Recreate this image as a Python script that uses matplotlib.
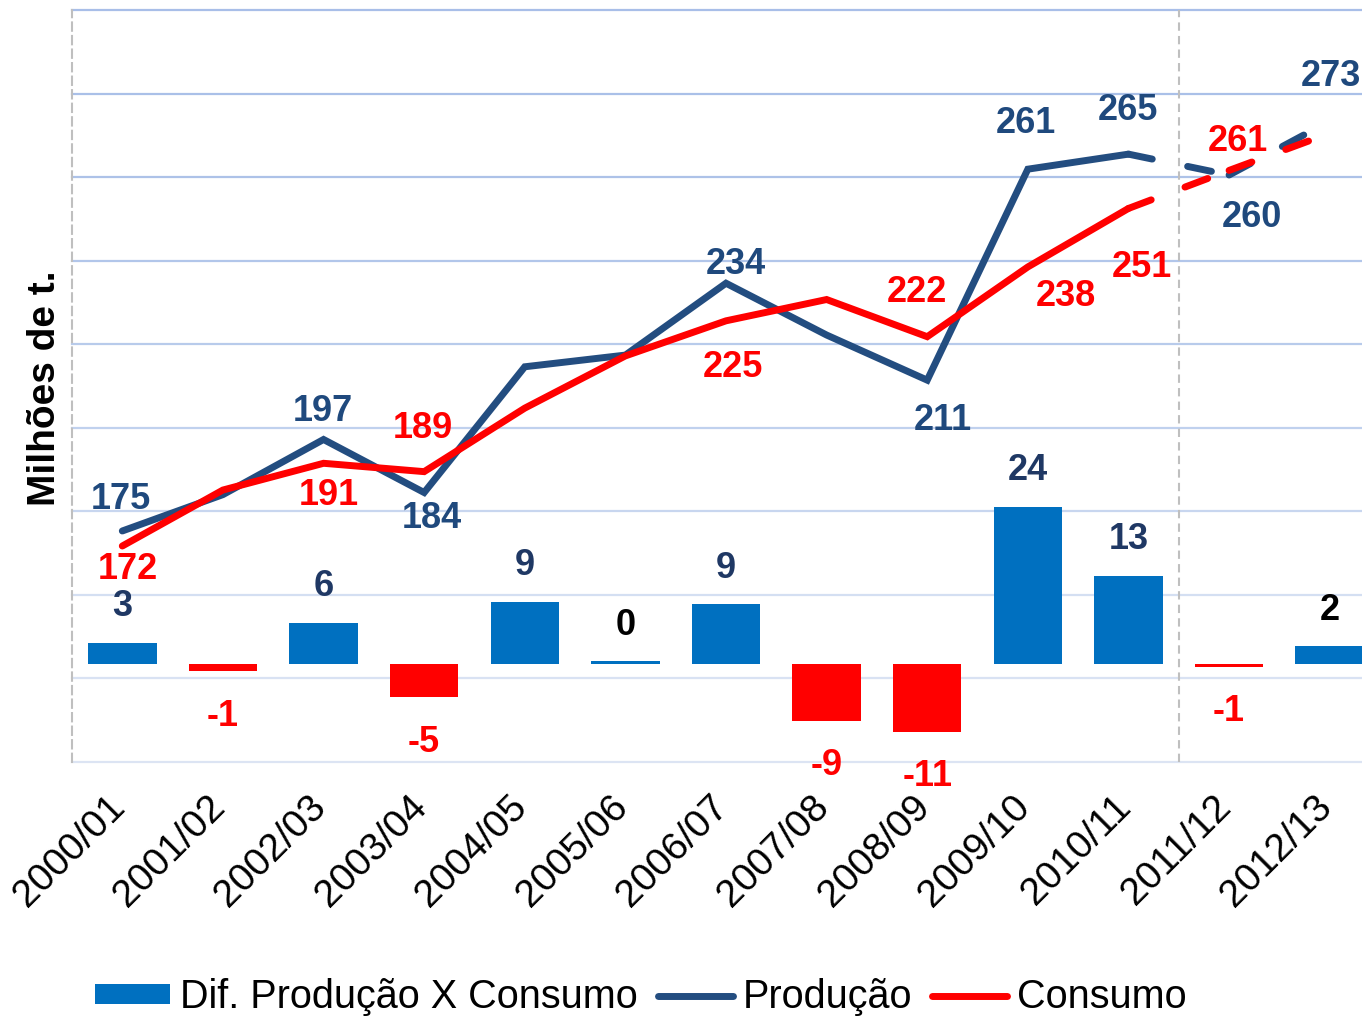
import matplotlib.pyplot as plt
import matplotlib.transforms as mtransforms
import numpy as np
from matplotlib.patches import Patch
from matplotlib.lines import Line2D

plt.rcParams['font.family'] = ['Liberation Sans', 'DejaVu Sans']

# dados (milhoes de t.)
safras = ['2000/01', '2001/02', '2002/03', '2003/04', '2004/05', '2005/06', '2006/07',
          '2007/08', '2008/09', '2009/10', '2010/11', '2011/12', '2012/13']
producao = [175.3, 184.0, 197.2, 184.5, 214.6, 217.4, 234.6, 222.2, 211.4, 261.9, 265.5, 260.5, 273.4]
consumo = [171.7, 185.1, 191.5, 189.5, 204.7, 217.2, 225.6, 230.7, 221.8, 238.5, 252.5, 261.6, 270.5]
diferenca = [3.2, -1.1, 6.3, -5.1, 9.5, 0.4, 9.1, -8.7, -10.4, 24.0, 13.5, -0.45, 2.7]

rot_prod = ['175', '', '197', '184', '', '', '234', '', '211', '261', '265', '260', '273']
rot_cons = ['172', '', '191', '189', '', '', '225', '', '222', '238', '251', '261', '']
rot_dif = ['3', '-1', '6', '-5', '9', '0', '9', '-9', '-11', '24', '13', '-1', '2']

# deslocamento dos rotulos (pixels)
off_prod = [(-1, 31), None, (-1, 28), (8, -26), None, None, (10, 19), None, (16, -40),
            (-2, 46), (-1, 44), (23, -42), (1, 45)]
off_cons = [(6, -23), None, (5, -32), (-1, 43), None, None, (7, -47), None, (-10, 44),
            (38, -30), (13, -59), (9, 29), None]

c_prod = '#234D80'
c_cons = '#FF0000'
c_pos = '#0070C0'
c_neg = '#FF0000'
c_lab_pos = '#1F3864'
cor_rot_dif = [c_lab_pos, c_neg, c_lab_pos, c_neg, c_lab_pos, 'black', c_lab_pos,
               c_neg, c_neg, c_lab_pos, c_lab_pos, c_neg, 'black']

fig = plt.figure(figsize=(13.62, 10.18), dpi=100)
ax = fig.add_axes([72/1362, 1-762/1018, 1308/1362, 752/1018])
axb = ax.twinx()
axl = ax.twinx()

x = np.arange(len(safras))
ax.set_xlim(-0.5, 12.5)

# grade
grade = np.arange(120, 301, 20)
grade_cores = ['#DCE4F3', '#D9E2F3', '#D4DFF2', '#C8D6EF', '#C0D1EE', '#B8CBEB',
               '#B2C6EA', '#ADC2E8', '#AAC0E8', '#A8BEE8']
ax.set_ylim(120, 300)
ax.set_yticks(grade)
ax.grid(axis='y', lw=1.6)
for gl, c in zip(ax.get_ygridlines(), grade_cores):
    gl.set_color(c)
    gl.set_clip_on(False)
ax.axvline(10.5, color='#BFBFBF', lw=1.5, ls=(0, (4, 2.5)))

for a in (ax, axb, axl):
    for s in a.spines.values():
        s.set_visible(False)
ax.spines['left'].set_visible(True)
ax.spines['left'].set_color('#BFBFBF')
ax.spines['left'].set_linewidth(1.5)
ax.spines['left'].set_linestyle((0, (4, 2.5)))

ax.tick_params(axis='y', left=False, labelleft=False)
for a in (axb, axl):
    a.tick_params(axis='y', right=False, labelright=False)
ax.set_xticks(x, safras, rotation=45, ha='right', va='top', rotation_mode='anchor',
              fontsize=28)
ax.tick_params(axis='x', length=0, pad=19)
desloc = mtransforms.ScaledTranslation(-16/100, 0, fig.dpi_scale_trans)
for lab in ax.get_xticklabels():
    lab.set_transform(lab.get_transform() + desloc)

# barras
axb.set_ylim(-15, 100)
cores = [c_pos if v >= 0 else c_neg for v in diferenca]
axb.bar(x, diferenca, width=0.68, color=cores)
for xi, v, t, c in zip(x, diferenca, rot_dif, cor_rot_dif):
    dy = 36 if v >= 0 else -45
    axb.annotate(t, (xi, v), xytext=(0, dy), textcoords='offset pixels',
                 ha='center', va='center', fontsize=26, fontweight='bold', color=c)

# linhas
axl.set_ylim(120, 300)
lw = 5
axl.plot(x[:11], producao[:11], color=c_prod, lw=lw, solid_capstyle='round',
         solid_joinstyle='miter', zorder=3)
axl.plot(x[:11], consumo[:11], color=c_cons, lw=lw, solid_capstyle='round',
         solid_joinstyle='miter', zorder=4)
for i in (10, 11):
    axl.plot(x[i:i+2], producao[i:i+2], color=c_prod, lw=lw, dashes=(3.5, 5.2),
             dash_capstyle='round', zorder=3)
    axl.plot(x[i:i+2], consumo[i:i+2], color=c_cons, lw=lw, dashes=(3.5, 5.2),
             dash_capstyle='round', zorder=4)

for xi, v, t, o in zip(x, producao, rot_prod, off_prod):
    if t:
        axl.annotate(t, (xi, v), xytext=o, textcoords='offset pixels', ha='center',
                     va='center', fontsize=26, fontweight='bold', color='#1F497D', zorder=6)
for xi, v, t, o in zip(x, consumo, rot_cons, off_cons):
    if t:
        axl.annotate(t, (xi, v), xytext=o, textcoords='offset pixels', ha='center',
                     va='center', fontsize=26, fontweight='bold', color=c_cons, zorder=6)

fig.text(45/1362, 1-388/1018, 'Milhões de t.', rotation=90, ha='center', va='center',
         fontsize=28, fontweight='bold')

handles = [Patch(facecolor=c_pos),
           Line2D([], [], color=c_prod, lw=lw, solid_capstyle='round'),
           Line2D([], [], color=c_cons, lw=lw, solid_capstyle='round')]
fig.legend(handles, ['Dif. Produção X Consumo', 'Produção', 'Consumo'],
           loc='center left', bbox_to_anchor=(95/1362, 1-997/1018), ncol=3,
           frameon=False, fontsize=28.5, handlelength=1.9, handleheight=0.42,
           handletextpad=0.25, columnspacing=0.5, borderpad=0, borderaxespad=0)

fig.savefig('out.png', dpi=100)
